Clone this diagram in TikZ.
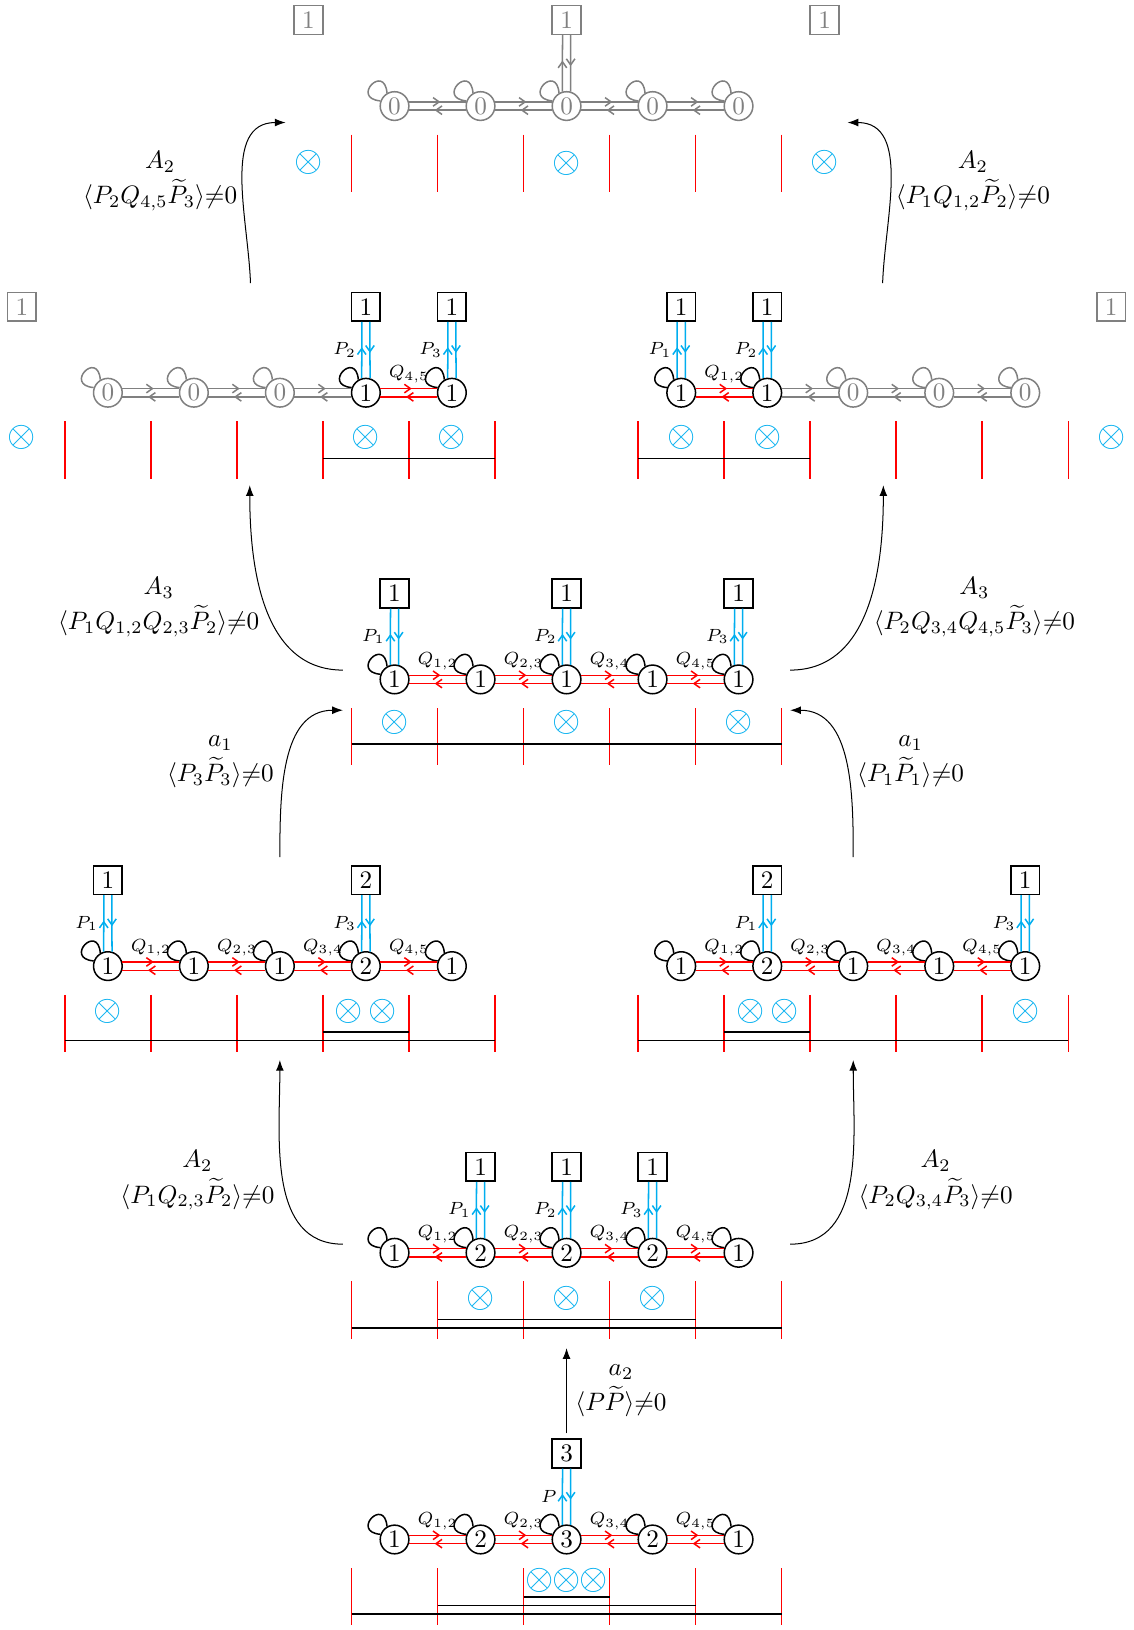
\documentclass[tikz,border=0pt]{standalone}
\usepackage{amsmath,amssymb}
\usetikzlibrary{arrows.meta,positioning,decorations.markings}

\definecolor{flavcyan}{RGB}{0,174,239}

\begin{document}
\begin{tikzpicture}[
    gauge/.style={circle, draw=black, semithick, minimum size=4mm,
                inner sep=0pt},
    gaugeoff/.style={gauge, draw=gray, text=gray},
    flavor/.style={rectangle, draw=black, semithick, minimum size=4mm,
                inner sep=0pt},
    flavoroff/.style={flavor, draw=gray, text=gray},
    midarr/.style={postaction={decorate}, decoration={markings,
                mark=at position 0.55 with {\arrow{Straight Barb[length=2.4pt,width=3.4pt]}}}},
    bif/.style={red, semithick, midarr},
    bifoff/.style={gray, semithick, midarr},
    fund/.style={flavcyan, semithick, midarr},
    fundoff/.style={gray, semithick, midarr},
    adj/.style={semithick},
    adjoff/.style={semithick, gray},
    ns/.style={red, semithick},
    dthree/.style={semithick},
    dfive/.style={text=flavcyan, inner sep=0pt, font=\Large},
    qlab/.style={font=\scriptsize, text=black, above=1pt, inner sep=1pt},
    plab/.style={font=\scriptsize, text=black, left=1pt, inner sep=1pt},
    move/.style={-{Latex[length=1.5mm,width=1.1mm]}},
    movelab/.style={align=center},
]
\useasboundingbox (-7.905,-1.263) rectangle (7.905,21.48);

% --- row a: 1-2-3-2-1 ---
\foreach \r [count=\i] in {1,2,3,2,1} {
  \node[gauge] (a\i) at ({1.2*\i-3.6},0) {\r};
  \draw[adj] (a\i.120) .. controls +(95:0.42) and +(175:0.42) .. (a\i.160);
}
\foreach \i/\j in {1/2,2/3,3/4,4/5} {
  \draw[bif] (a\i.16) -- (a\j.164) node[qlab, midway] {$Q_{\i,\j}$};
  \draw[bif] (a\j.196) -- (a\i.344);
}
\node[flavor] (fa) at (0,1.2) {3};
\draw[fund] (a3.106) -- ([xshift=-1.6pt]fa.south) node[plab, midway] {$P$};
\draw[fund] ([xshift=1.6pt]fa.south) -- (a3.74);
\foreach \x in {-3,-1.8,...,3} \draw[ns] (\x,-0.4) -- (\x,-1.2);
\draw[dthree] (-3,-1.04) -- (3,-1.04);
\draw[dthree] (-1.8,-0.92) -- (1.8,-0.92);
\draw[dthree] (-0.6,-0.8) -- (0.6,-0.8);
\node[dfive] (oa) at (0,-0.57) {${\otimes}\mkern-0.5mu{\otimes}\mkern-0.5mu{\otimes}$};

% --- row b: 1-2-2-2-1 ---
\foreach \r [count=\i] in {1,2,2,2,1} {
  \node[gauge] (b\i) at ({1.2*\i-3.6},4) {\r};
  \draw[adj] (b\i.120) .. controls +(95:0.42) and +(175:0.42) .. (b\i.160);
}
\foreach \i/\j in {1/2,2/3,3/4,4/5} {
  \draw[bif] (b\i.16) -- (b\j.164) node[qlab, midway] {$Q_{\i,\j}$};
  \draw[bif] (b\j.196) -- (b\i.344);
}
\foreach \i/\p in {2/1,3/2,4/3} {
  \node[flavor] (fb\i) at ({1.2*\i-3.6},5.2) {1};
  \draw[fund] (b\i.106) -- ([xshift=-1.6pt]fb\i.south) node[plab, midway] {$P_\p$};
  \draw[fund] ([xshift=1.6pt]fb\i.south) -- (b\i.74);
  \node[dfive] (ob\i) at ({1.2*\i-3.6},3.36) {$\otimes$};
}
\foreach \x in {-3,-1.8,...,3} \draw[ns] (\x,3.6) -- (\x,2.8);
\draw[dthree] (-3,2.95) -- (3,2.95);
\draw[dthree] (-1.8,3.07) -- (1.8,3.07);

% --- row c, left: 1-1-1-2-1 ---
\foreach \r [count=\i] in {1,1,1,2,1} {
  \node[gauge] (cl\i) at ({1.2*\i-7.6},8) {\r};
  \draw[adj] (cl\i.120) .. controls +(95:0.42) and +(175:0.42) .. (cl\i.160);
}
\foreach \i/\j in {1/2,2/3,3/4,4/5} {
  \draw[bif] (cl\i.16) -- (cl\j.164) node[qlab, midway] {$Q_{\i,\j}$};
  \draw[bif] (cl\j.196) -- (cl\i.344);
}
\foreach \i/\n/\p in {1/1/1,4/2/3} {
  \node[flavor] (fcl\i) at ({1.2*\i-7.6},9.2) {\n};
  \draw[fund] (cl\i.106) -- ([xshift=-1.6pt]fcl\i.south) node[plab, midway] {$P_\p$};
  \draw[fund] ([xshift=1.6pt]fcl\i.south) -- (cl\i.74);
}
\foreach \x in {-7,-5.8,...,-1} \draw[ns] (\x,7.6) -- (\x,6.8);
\draw[dthree] (-7,6.96) -- (-1,6.96);
\draw[dthree] (-3.4,7.08) -- (-2.2,7.08);
\node[dfive] (ocl1) at (-6.4,7.37) {$\otimes$};
\node[dfive] (ocl4) at (-2.8,7.37) {${\otimes}\mkern3mu{\otimes}$};

% --- row c, right: 1-2-1-1-1 ---
\foreach \r [count=\i] in {1,2,1,1,1} {
  \node[gauge] (cr\i) at ({1.2*\i+0.4},8) {\r};
  \draw[adj] (cr\i.120) .. controls +(95:0.42) and +(175:0.42) .. (cr\i.160);
}
\foreach \i/\j in {1/2,2/3,3/4,4/5} {
  \draw[bif] (cr\i.16) -- (cr\j.164) node[qlab, midway] {$Q_{\i,\j}$};
  \draw[bif] (cr\j.196) -- (cr\i.344);
}
\foreach \i/\n/\p in {2/2/1,5/1/3} {
  \node[flavor] (fcr\i) at ({1.2*\i+0.4},9.2) {\n};
  \draw[fund] (cr\i.106) -- ([xshift=-1.6pt]fcr\i.south) node[plab, midway] {$P_\p$};
  \draw[fund] ([xshift=1.6pt]fcr\i.south) -- (cr\i.74);
}
\foreach \x in {1,2.2,...,7} \draw[ns] (\x,7.6) -- (\x,6.8);
\draw[dthree] (1,6.96) -- (7,6.96);
\draw[dthree] (2.2,7.08) -- (3.4,7.08);
\node[dfive] (ocr2) at (2.8,7.37) {${\otimes}\mkern3mu{\otimes}$};
\node[dfive] (ocr5) at (6.4,7.37) {$\otimes$};

% --- row d: all ones ---
\foreach \i in {1,...,5} {
  \node[gauge] (d\i) at ({1.2*\i-3.6},12) {1};
  \draw[adj] (d\i.120) .. controls +(95:0.42) and +(175:0.42) .. (d\i.160);
}
\foreach \i/\j in {1/2,2/3,3/4,4/5} {
  \draw[bif] (d\i.16) -- (d\j.164) node[qlab, midway] {$Q_{\i,\j}$};
  \draw[bif] (d\j.196) -- (d\i.344);
}
\foreach \i/\p in {1/1,3/2,5/3} {
  \node[flavor] (fd\i) at ({1.2*\i-3.6},13.2) {1};
  \draw[fund] (d\i.106) -- ([xshift=-1.6pt]fd\i.south) node[plab, midway] {$P_\p$};
  \draw[fund] ([xshift=1.6pt]fd\i.south) -- (d\i.74);
  \node[dfive] (od\i) at ({1.2*\i-3.6},11.4) {$\otimes$};
}
\foreach \x in {-3,-1.8,...,3} \draw[ns] (\x,11.6) -- (\x,10.8);
\draw[dthree] (-3,11.1) -- (3,11.1);

% --- row e, left: 0-0-0-1-1 ---
\foreach \i in {1,2,3} {
  \node[gaugeoff] (el\i) at ({1.2*\i-7.6},16) {0};
  \draw[adjoff] (el\i.120) .. controls +(95:0.42) and +(175:0.42) .. (el\i.160);
}
\foreach \i in {4,5} {
  \node[gauge] (el\i) at ({1.2*\i-7.6},16) {1};
  \draw[adj] (el\i.120) .. controls +(95:0.42) and +(175:0.42) .. (el\i.160);
}
\foreach \i/\j in {1/2,2/3,3/4} {
  \draw[bifoff] (el\i.16) -- (el\j.164);
  \draw[bifoff] (el\j.196) -- (el\i.344);
}
\draw[bif] (el4.16) -- (el5.164) node[qlab, midway] {$Q_{4,5}$};
\draw[bif] (el5.196) -- (el4.344);
\foreach \i/\p in {4/2,5/3} {
  \node[flavor] (fel\i) at ({1.2*\i-7.6},17.2) {1};
  \draw[fund] (el\i.106) -- ([xshift=-1.6pt]fel\i.south) node[plab, midway] {$P_\p$};
  \draw[fund] ([xshift=1.6pt]fel\i.south) -- (el\i.74);
  \node[dfive] (oel\i) at ({1.2*\i-7.6},15.38) {$\otimes$};
}
\node[flavoroff] (fel0) at (-7.6,17.2) {1};
\node[dfive] (oel0) at (-7.6,15.38) {$\otimes$};
\foreach \x in {-7,-5.8,...,-1} \draw[ns] (\x,15.6) -- (\x,14.8);
\draw[dthree] (-3.4,15.08) -- (-1,15.08);

% --- row e, right: 1-1-0-0-0 ---
\foreach \i in {1,2} {
  \node[gauge] (er\i) at ({1.2*\i+0.4},16) {1};
  \draw[adj] (er\i.120) .. controls +(95:0.42) and +(175:0.42) .. (er\i.160);
}
\foreach \i in {3,4,5} {
  \node[gaugeoff] (er\i) at ({1.2*\i+0.4},16) {0};
  \draw[adjoff] (er\i.120) .. controls +(95:0.42) and +(175:0.42) .. (er\i.160);
}
\draw[bif] (er1.16) -- (er2.164) node[qlab, midway] {$Q_{1,2}$};
\draw[bif] (er2.196) -- (er1.344);
\foreach \i/\j in {2/3,3/4,4/5} {
  \draw[bifoff] (er\i.16) -- (er\j.164);
  \draw[bifoff] (er\j.196) -- (er\i.344);
}
\foreach \i/\p in {1/1,2/2} {
  \node[flavor] (fer\i) at ({1.2*\i+0.4},17.2) {1};
  \draw[fund] (er\i.106) -- ([xshift=-1.6pt]fer\i.south) node[plab, midway] {$P_\p$};
  \draw[fund] ([xshift=1.6pt]fer\i.south) -- (er\i.74);
  \node[dfive] (oer\i) at ({1.2*\i+0.4},15.38) {$\otimes$};
}
\node[flavoroff] (fer6) at (7.6,17.2) {1};
\node[dfive] (oer6) at (7.6,15.38) {$\otimes$};
\foreach \x in {1,2.2,...,7} \draw[ns] (\x,15.6) -- (\x,14.8);
\draw[dthree] (1,15.08) -- (3.4,15.08);

% --- row f: everything switched off ---
\foreach \i in {1,...,5} {
  \node[gaugeoff] (f\i) at ({1.2*\i-3.6},20) {0};
  \draw[adjoff] (f\i.120) .. controls +(95:0.42) and +(175:0.42) .. (f\i.160);
}
\foreach \i/\j in {1/2,2/3,3/4,4/5} {
  \draw[bifoff] (f\i.16) -- (f\j.164);
  \draw[bifoff] (f\j.196) -- (f\i.344);
}
\node[flavoroff] (ff3) at (0,21.2) {1};
\draw[fundoff] (f3.106) -- ([xshift=-1.6pt]ff3.south);
\draw[fundoff] ([xshift=1.6pt]ff3.south) -- (f3.74);
\node[flavoroff] (ff0) at (-3.6,21.2) {1};
\node[flavoroff] (ff6) at (3.6,21.2) {1};
\node[dfive] (of3) at (0,19.2) {$\otimes$};
\node[dfive] (of0) at (-3.6,19.22) {$\otimes$};
\node[dfive] (of6) at (3.6,19.22) {$\otimes$};
\foreach \x in {-3,-1.8,...,3} \draw[ns] (\x,19.6) -- (\x,18.8);

% --- moves between rows ---
\coordinate (ab) at (0,2.67);
\draw[move] ([yshift=2pt]fa.north) -- (ab)
  node[midway, right, movelab] {$a_2$\\[2pt]$\langle P\widetilde{P}\rangle{\neq}0$};

\coordinate (bcl0) at (-3.12,4.12);  \coordinate (bcl1) at (-4,6.69);
\coordinate (bcr0) at (3.12,4.12);   \coordinate (bcr1) at (4,6.69);
\draw[move] (bcl0) to[out=180, in=-90] (bcl1);
\draw[move] (bcr0) to[out=0, in=-90] (bcr1);
\node[movelab] (lbcl) at (-5.15,5.01)
  {$A_2$\\[2pt]$\langle P_1Q_{2,3}\widetilde{P}_2\rangle{\neq}0$};
\node[movelab] (lbcr) at (5.15,5.01)
  {$A_2$\\[2pt]$\langle P_2Q_{3,4}\widetilde{P}_3\rangle{\neq}0$};

\coordinate (cdl0) at (-4,9.52);     \coordinate (cdl1) at (-3.12,11.57);
\coordinate (cdr0) at (4,9.52);      \coordinate (cdr1) at (3.12,11.57);
\draw[move] (cdl0) to[out=90, in=180] (cdl1);
\draw[move] (cdr0) to[out=90, in=0] (cdr1);
\node[movelab] (lcdl) at (-4.83,10.85)
  {$a_1$\\[2pt]$\langle P_3\widetilde{P}_3\rangle{\neq}0$};
\node[movelab] (lcdr) at (4.8,10.85)
  {$a_1$\\[2pt]$\langle P_1\widetilde{P}_1\rangle{\neq}0$};

\coordinate (del0) at (-3.12,12.13); \coordinate (del1) at (-4.42,14.71);
\coordinate (der0) at (3.12,12.13);  \coordinate (der1) at (4.42,14.71);
\draw[move] (del0) to[out=180, in=-90] (del1);
\draw[move] (der0) to[out=0, in=-90] (der1);
\node[movelab] (ldel) at (-5.69,13.01)
  {$A_3$\\[2pt]$\langle P_1Q_{1,2}Q_{2,3}\widetilde{P}_2\rangle{\neq}0$};
\node[movelab] (lder) at (5.69,13.01)
  {$A_3$\\[2pt]$\langle P_2Q_{3,4}Q_{4,5}\widetilde{P}_3\rangle{\neq}0$};

\coordinate (efl0) at (-4.41,17.53); \coordinate (efl1) at (-3.92,19.77);
\coordinate (efr0) at (4.41,17.53);  \coordinate (efr1) at (3.92,19.77);
\draw[move] (efl0) to[out=92, in=180] (efl1);
\draw[move] (efr0) to[out=88, in=0] (efr1);
\node[movelab] (lefl) at (-5.67,18.95)
  {$A_2$\\[2pt]$\langle P_2Q_{4,5}\widetilde{P}_3\rangle{\neq}0$};
\node[movelab] (lefr) at (5.67,18.95)
  {$A_2$\\[2pt]$\langle P_1Q_{1,2}\widetilde{P}_2\rangle{\neq}0$};

\end{tikzpicture}
\end{document}
